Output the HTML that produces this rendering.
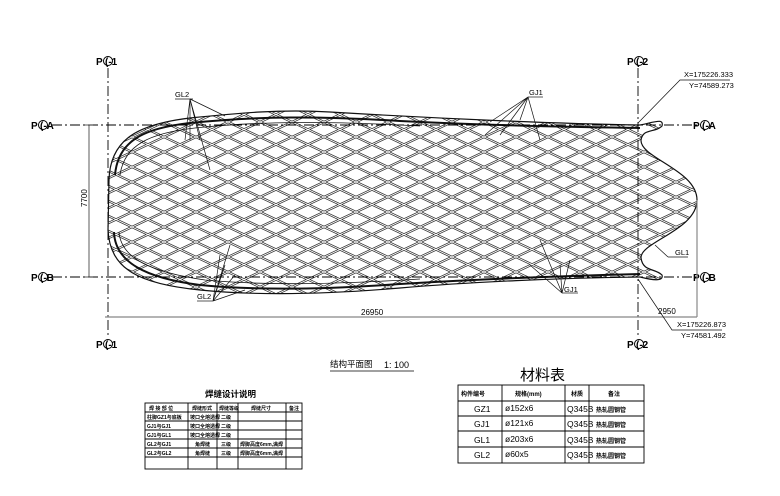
<!DOCTYPE html>
<html><head><meta charset="utf-8"><style>
html,body{margin:0;padding:0;background:#fff}
svg{display:block}
text{font-family:"Liberation Sans","Noto Sans CJK SC",sans-serif;fill:#000}
</style></head><body>
<svg width="780" height="496" viewBox="0 0 780 496" xmlns="http://www.w3.org/2000/svg">
<defs>
<pattern id="dia" width="32" height="15" patternUnits="userSpaceOnUse" x="4" y="2">
<g stroke="#222" stroke-width="2.3" fill="none">
<line x1="-1" y1="-0.5" x2="33" y2="15.5"/><line x1="-1" y1="15.5" x2="33" y2="-0.5"/>
</g>
<g stroke="#fff" stroke-width="0.9" fill="none">
<line x1="-1" y1="-0.5" x2="33" y2="15.5"/><line x1="-1" y1="15.5" x2="33" y2="-0.5"/>
</g>
</pattern>
<clipPath id="cl"><path d="M109,180 C110,138 140,124 190,118 C240,113 280,109 330,112 C430,118 560,124 640,125 C655,122 664,118 662,126 C655,133 643,128 641,140 C640,158 697,170 697,200 C697,230 640,242 641,258 C643,272 655,268 662,275 C664,282 652,280 640,277 C560,278 470,282 400,288 C330,294 260,296 200,290 C140,284 110,270 108,230 Z"/></clipPath>
</defs>
<rect x="100" y="100" width="610" height="210" fill="url(#dia)" clip-path="url(#cl)"/>
<g fill="none" stroke="#111">
<path d="M109,180 C110,138 140,124 190,118 C240,113 280,109 330,112 C430,118 560,124 640,125 C655,122 664,118 662,126 C655,133 643,128 641,140 C640,158 697,170 697,200 C697,230 640,242 641,258 C643,272 655,268 662,275 C664,282 652,280 640,277 C560,278 470,282 400,288 C330,294 260,296 200,290 C140,284 110,270 108,230 Z" stroke-width="1.2"/>
<path d="M115,175 C118,140 145,128 190,123 C260,116 320,116 400,121 C500,126 580,127 640,128" stroke-width="2"/>
<path d="M114,232 C115,262 145,278 200,285 C260,291 330,289 400,284 C480,279 560,276 640,274" stroke-width="2"/>
<path d="M120,175 C124,145 150,133 195,128 C260,121 330,121 420,126" stroke-width="0.8"/>
<path d="M119,232 C121,258 150,272 205,280 C270,286 340,284 420,279" stroke-width="0.8"/>
</g>
<g stroke="#000" stroke-width="0.9" stroke-dasharray="10,3,2,3" fill="none">
<line x1="108" y1="68" x2="108" y2="338"/>
<line x1="638" y1="68" x2="638" y2="338"/>
<line x1="52" y1="125" x2="700" y2="125"/>
<line x1="52" y1="277" x2="700" y2="277"/>
</g>
<g font-size="10" font-weight="bold">
<text x="96" y="65">P</text><circle cx="108" cy="61" r="4.5" fill="none" stroke="#000"/><text x="105" y="65">(-1</text>
<text x="96" y="348">P</text><circle cx="108" cy="344" r="4.5" fill="none" stroke="#000"/><text x="105" y="348">(-1</text>
<text x="627" y="65">P</text><circle cx="639" cy="61" r="4.5" fill="none" stroke="#000"/><text x="636" y="65">(-2</text>
<text x="627" y="348">P</text><circle cx="639" cy="344" r="4.5" fill="none" stroke="#000"/><text x="636" y="348">(-2</text>
<text x="31" y="129">P</text><circle cx="43" cy="125" r="4.5" fill="none" stroke="#000"/><text x="40" y="129">(-A</text>
<text x="31" y="281">P</text><circle cx="43" cy="277" r="4.5" fill="none" stroke="#000"/><text x="40" y="281">(-B</text>
<text x="693" y="129">P</text><circle cx="705" cy="125" r="4.5" fill="none" stroke="#000"/><text x="702" y="129">(-A</text>
<text x="693" y="281">P</text><circle cx="705" cy="277" r="4.5" fill="none" stroke="#000"/><text x="702" y="281">(-B</text>
</g>
<g stroke="#333" stroke-width="0.8" fill="none">
<line x1="89" y1="125" x2="89" y2="277"/>
<line x1="85" y1="125" x2="93" y2="125"/><line x1="85" y1="277" x2="93" y2="277"/>
<line x1="105" y1="317" x2="697" y2="317" stroke="#888" stroke-width="1.2"/>
<line x1="697" y1="200" x2="697" y2="317" stroke="#888" stroke-width="1.2"/>
</g>
<text font-size="8" transform="translate(87,207) rotate(-90)">7700</text>
<text x="361" y="315" font-size="8">26950</text>
<text x="658" y="314" font-size="8">2950</text>
<g stroke="#111" stroke-width="0.7" fill="none">
<line x1="175" y1="99" x2="193" y2="99"/>
<path d="M190,99 L185,140 M190,99 L190,140 M190,99 L200,140 M190,99 L210,170 M190,99 L225,116"/>
<line x1="197" y1="301" x2="213" y2="301"/>
<path d="M213,301 L220,255 M213,301 L225,265 M213,301 L235,275 M213,301 L245,290 M213,301 L230,245"/>
<line x1="528" y1="97" x2="543" y2="97"/>
<path d="M528,97 L490,122 M528,97 L485,135 M528,97 L500,135 M528,97 L520,120 M528,97 L540,140"/>
<line x1="562" y1="293" x2="578" y2="293"/>
<path d="M562,293 L540,240 M562,293 L530,265 M562,293 L560,265 M562,293 L570,260"/>
<line x1="668" y1="257" x2="688" y2="257"/><line x1="668" y1="257" x2="655" y2="245"/>
<path d="M638,123 L680,80 L730,80"/>
<path d="M638,279 L672,330 L722,330"/>
</g>
<g font-size="7.5">
<text x="175" y="97">GL2</text><text x="197" y="299">GL2</text>
<text x="529" y="95">GJ1</text><text x="564" y="292">GJ1</text>
<text x="675" y="255">GL1</text>
<text x="684" y="77">X=175226.333</text><text x="689" y="88">Y=74589.273</text>
<text x="677" y="327">X=175226.873</text><text x="681" y="338">Y=74581.492</text>
</g>
<text x="330" y="367" font-size="8.5">结构平面图</text>
<text x="384" y="368" font-size="9">1: 100</text>
<line x1="330" y1="371" x2="414" y2="371" stroke="#000" stroke-width="0.8"/>
<text x="205" y="397" font-size="8.5" font-weight="bold">焊缝设计说明</text>
<g stroke="#000" stroke-width="0.9" fill="none">
<rect x="145" y="403" width="157" height="66"/>
<line x1="188" y1="403" x2="188" y2="469"/><line x1="217" y1="403" x2="217" y2="469"/>
<line x1="238" y1="403" x2="238" y2="469"/><line x1="286" y1="403" x2="286" y2="469"/>
<line x1="145" y1="412" x2="302" y2="412"/><line x1="145" y1="421" x2="302" y2="421"/>
<line x1="145" y1="430" x2="302" y2="430"/><line x1="145" y1="439" x2="302" y2="439"/>
<line x1="145" y1="448" x2="302" y2="448"/><line x1="145" y1="457" x2="302" y2="457"/>
</g>
<g font-size="5" font-weight="bold">
<text x="149" y="410">焊 接 部 位</text><text x="192" y="410">焊缝形式</text><text x="219" y="410">焊缝等级</text><text x="251" y="410">焊缝尺寸</text><text x="289" y="410">备注</text>
<text x="147" y="419">柱脚GZ1与底板</text><text x="190" y="419">坡口全熔透焊</text><text x="221" y="419">二级</text>
<text x="147" y="428">GJ1与GJ1</text><text x="190" y="428">坡口全熔透焊</text><text x="221" y="428">二级</text>
<text x="147" y="437">GJ1与GL1</text><text x="190" y="437">坡口全熔透焊</text><text x="221" y="437">二级</text>
<text x="147" y="446">GL2与GJ1</text><text x="195" y="446">角焊缝</text><text x="221" y="446">三级</text><text x="240" y="446">焊脚高度6mm,满焊</text>
<text x="147" y="455">GL2与GL2</text><text x="195" y="455">角焊缝</text><text x="221" y="455">三级</text><text x="240" y="455">焊脚高度6mm,满焊</text>
</g>
<text x="520" y="380" font-size="15">材料表</text>
<g stroke="#000" stroke-width="0.9" fill="none">
<rect x="458" y="385" width="186" height="78"/>
<line x1="502" y1="385" x2="502" y2="463"/><line x1="565" y1="385" x2="565" y2="463"/><line x1="589" y1="385" x2="589" y2="463"/>
<line x1="458" y1="401" x2="644" y2="401"/><line x1="458" y1="416" x2="644" y2="416"/>
<line x1="458" y1="431" x2="644" y2="431"/><line x1="458" y1="447" x2="644" y2="447"/>
</g>
<g font-size="6" font-weight="bold">
<text x="461" y="396">构件编号</text><text x="515" y="396">规格(mm)</text><text x="571" y="396">材质</text><text x="608" y="396">备注</text>
<text x="596" y="412">热轧圆钢管</text><text x="596" y="427">热轧圆钢管</text><text x="596" y="443">热轧圆钢管</text><text x="596" y="458">热轧圆钢管</text>
</g>
<g font-size="8.5">
<text x="474" y="412">GZ1</text><text x="505" y="411">ø152x6</text><text x="567" y="412">Q345B</text>
<text x="474" y="427">GJ1</text><text x="505" y="426">ø121x6</text><text x="567" y="427">Q345B</text>
<text x="474" y="443">GL1</text><text x="505" y="442">ø203x6</text><text x="567" y="443">Q345B</text>
<text x="474" y="458">GL2</text><text x="505" y="457">ø60x5</text><text x="567" y="458">Q345B</text>
</g>
</svg>
</body></html>
